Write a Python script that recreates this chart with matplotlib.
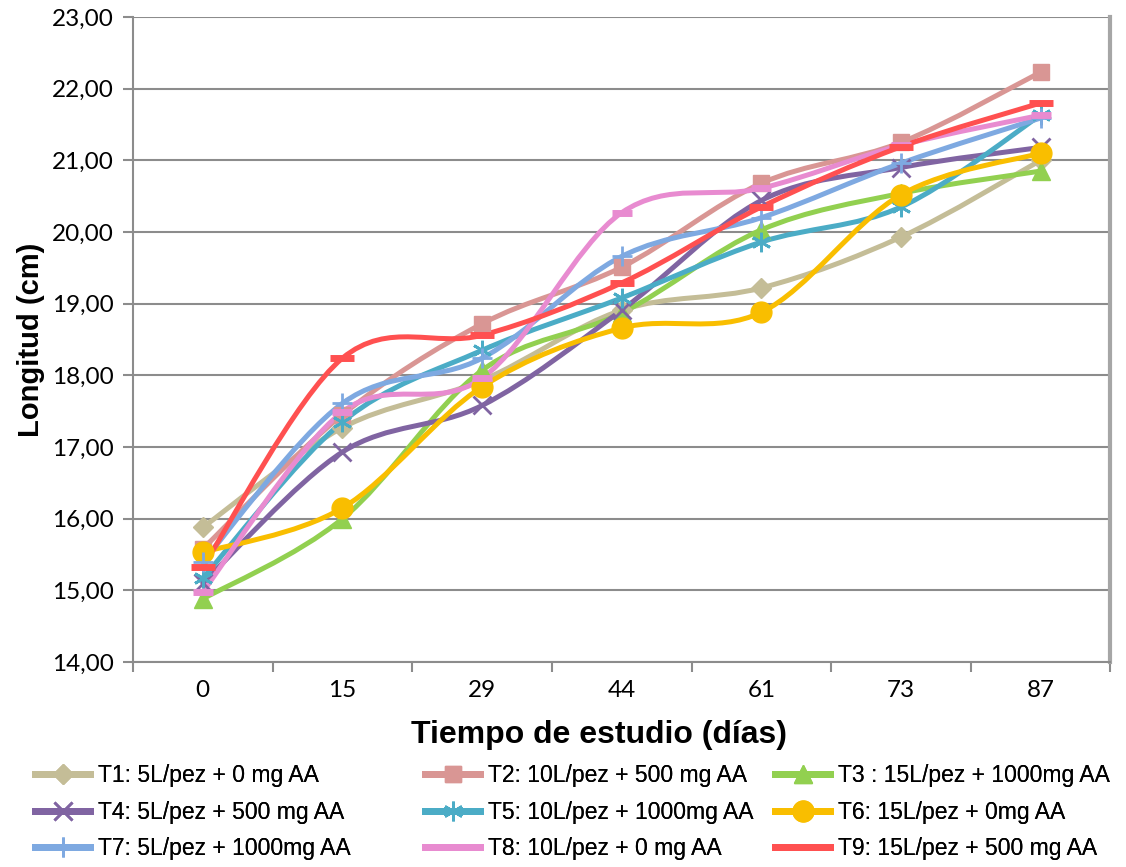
import numpy as np
import matplotlib.pyplot as plt
from matplotlib.path import Path
from matplotlib.patches import PathPatch
from matplotlib.lines import Line2D

# Datos: longitud media (cm) por tratamiento y día de muestreo
dias = ["0", "15", "29", "44", "61", "73", "87"]

T1 = [15.88, 17.27, 17.93, 18.91, 19.22, 19.93, 21.00]
T2 = [15.58, 17.45, 18.72, 19.51, 20.68, 21.25, 22.23]
T3 = [14.88, 16.00, 18.07, 18.87, 20.03, 20.54, 20.85]
T4 = [15.10, 16.93, 17.58, 18.91, 20.44, 20.90, 21.18]
T5 = [15.17, 17.35, 18.35, 19.08, 19.86, 20.35, 21.63]
T6 = [15.53, 16.15, 17.84, 18.66, 18.88, 20.52, 21.10]
T7 = [15.40, 17.61, 18.24, 19.66, 20.20, 20.96, 21.59]
T8 = [14.98, 17.49, 17.96, 20.27, 20.61, 21.21, 21.63]
T9 = [15.33, 18.24, 18.56, 19.29, 20.35, 21.19, 21.80]

nombres = ["T1: 5L/pez + 0 mg AA", "T2: 10L/pez + 500 mg AA", "T3 : 15L/pez + 1000mg AA",
           "T4: 5L/pez + 500 mg AA", "T5: 10L/pez + 1000mg AA", "T6: 15L/pez + 0mg AA",
           "T7: 5L/pez + 1000mg AA", "T8: 10L/pez + 0 mg AA", "T9: 15L/pez + 500 mg AA"]
series = [T1, T2, T3, T4, T5, T6, T7, T8, T9]

colores = ["#C4BD97", "#D99694", "#92D050", "#8064A2", "#4BACC6",
           "#F9BE00", "#7EA9E1", "#E88BD0", "#FF5050"]
marcadores = ["D", "s", "^", "x", (6, 2, 0), "o", "+", "_", "_"]
tam = [10, 11, 13, 13, 14, 15, 15, 14, 17]

def curva_suave(x, y):
    # curva tipo Excel: bezier cúbica con tangentes de Catmull-Rom
    x = np.asarray(x, float)
    y = np.asarray(y, float)
    n = len(x)
    verts = [(x[0], y[0])]
    codes = [Path.MOVETO]
    for i in range(n - 1):
        p0 = (x[max(i - 1, 0)], y[max(i - 1, 0)])
        p1 = (x[i], y[i])
        p2 = (x[i + 1], y[i + 1])
        p3 = (x[min(i + 2, n - 1)], y[min(i + 2, n - 1)])
        c1 = (p1[0] + (p2[0] - p0[0]) / 6, p1[1] + (p2[1] - p0[1]) / 6)
        c2 = (p2[0] - (p3[0] - p1[0]) / 6, p2[1] - (p3[1] - p1[1]) / 6)
        verts += [c1, c2, p2]
        codes += [Path.CURVE4] * 3
    return Path(verts, codes)

plt.rcParams['font.family'] = ['Lato', 'DejaVu Sans']
arial = ['Liberation Sans', 'DejaVu Sans']

W, H = 1126, 867
fig = plt.figure(figsize=(W / 100, H / 100), dpi=100)
ax = fig.add_axes([0.1181, 0.2364, 0.8681, 0.7440])

xpos = np.arange(len(dias))
handles = []
for s, c, m, ms, nom in zip(series, colores, marcadores, tam, nombres):
    ax.add_patch(PathPatch(curva_suave(xpos, s), fill=False, edgecolor=c, lw=3.6,
                           capstyle='round', joinstyle='round', zorder=3))
    mew = 2.0 if m in ("x", "+", (6, 2, 0)) else 1
    if m == "_":
        mew = 5
    ax.plot(xpos, s, linestyle='none', marker=m, markersize=ms, color=c,
            markeredgecolor=c, markeredgewidth=mew, zorder=4)
    handles.append(Line2D([0], [0], color=c, lw=5, marker=m, markersize=ms,
                          markeredgecolor=c, markeredgewidth=mew))

ax.set_xlim(-0.5, len(dias) - 0.5)
ax.set_ylim(14, 23)
ax.set_yticks(np.arange(14, 23.5, 1))
ax.set_yticklabels([f"{v:.2f}".replace(".", ",") for v in np.arange(14, 23.5, 1)], fontsize=17.5)
ax.set_xticks(xpos)
ax.set_xticklabels(dias, fontsize=17.5)
ax.set_xticks(np.arange(-0.5, len(dias), 1), minor=True)
ax.tick_params(axis='x', which='major', length=0, pad=13)
ax.tick_params(axis='x', which='minor', length=7, width=1.5, color='#8C8C8C')
ax.tick_params(axis='y', length=7, width=1.5, color='#8C8C8C', pad=7)
ax.grid(axis='y', color='#8C8C8C', lw=1.5, zorder=0)
ax.set_axisbelow(True)

ax.spines['top'].set_visible(False)
ax.spines['left'].set_color('#8C8C8C')
ax.spines['left'].set_linewidth(1.5)
ax.spines['bottom'].set_color('#8C8C8C')
ax.spines['bottom'].set_linewidth(1.5)
ax.spines['right'].set_color('#A6A6A6')
ax.spines['right'].set_linewidth(3)

ax.set_ylabel("Longitud (cm)", fontsize=21, fontweight='bold', family=arial, labelpad=5)
fig.text(599 / W, 1 - 735 / H, "Tiempo de estudio (días)", fontsize=23, fontweight='bold',
         family=arial, ha='center', va='center')

# leyenda: tres columnas de ancho fijo, como en Excel
cols_x = [35, 425, 775]
for k, x0 in enumerate(cols_x):
    idx = [k, k + 3, k + 6]
    leg = fig.legend([handles[i] for i in idx], [nombres[i] for i in idx],
                     loc='upper left', bbox_to_anchor=(x0 / W, 1 - 764 / H),
                     frameon=False, prop={'family': arial, 'size': 16.5},
                     handlelength=2.4, handletextpad=0.35, labelspacing=0.6,
                     borderpad=0, borderaxespad=0)
    fig.add_artist(leg)

fig.savefig("out.png", dpi=100)
